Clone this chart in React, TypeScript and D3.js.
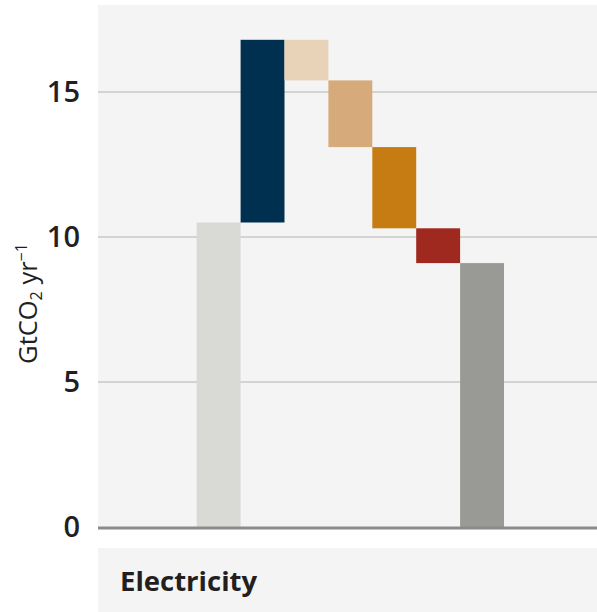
import React from "react";
import * as d3 from "d3";

const categories = ["Start", "Activity", "Factor 1", "Factor 2", "Factor 3", "Factor 4", "End"];
const changes = [10.5, 6.3, -1.4, -2.3, -2.8, -1.2];
const endValue = 9.1;
const colors = ["#d9dad6", "#00304f", "#e8d3b9", "#d6aa7b", "#c77b13", "#a0291f", "#999a95"];
const yTicks = [0, 5, 10, 15];
const panelLabel = "Electricity";

const W = 597;
const H = 612;
const plotLeft = 98;
const plotRight = 597;
const plotTop = 5;
const baseY = 527;

export default function App() {
  const y = d3.scaleLinear().domain([0, 18]).range([baseY, plotTop]);
  const x = d3.scaleBand<string>().domain(categories).range([196.7, 504]).padding(0);

  const bars: { cat: string; lo: number; hi: number; color: string }[] = [];
  let cum = 0;
  changes.forEach((c, i) => {
    const next = cum + c;
    bars.push({ cat: categories[i], lo: Math.min(cum, next), hi: Math.max(cum, next), color: colors[i] });
    cum = next;
  });
  bars.push({ cat: categories[6], lo: 0, hi: endValue, color: colors[6] });

  const font = "'Open Sans', 'Noto Sans', sans-serif";

  return (
    <svg width={W} height={H} style={{ position: "absolute", left: 0, top: 0 }} fontFamily={font}>
      <rect x={0} y={0} width={W} height={H} fill="#ffffff" />
      <rect x={plotLeft} y={plotTop} width={plotRight - plotLeft} height={baseY - plotTop} fill="#f4f4f4" />
      {yTicks.filter((t) => t > 0).map((t) => (
        <line key={t} x1={plotLeft} x2={plotRight} y1={y(t)} y2={y(t)} stroke="#c9c9c7" strokeWidth={1.6} />
      ))}
      {bars.map((b) => (
        <rect
          key={b.cat}
          x={x(b.cat)}
          y={y(b.hi)}
          width={x.bandwidth()}
          height={y(b.lo) - y(b.hi)}
          fill={b.color}
        />
      ))}
      <line x1={plotLeft} x2={plotRight} y1={baseY + 1} y2={baseY + 1} stroke="#8b8c87" strokeWidth={3} />
      {yTicks.map((t) => (
        <text key={t} x={80} y={y(t) + 10} textAnchor="end" fontSize={29} fontWeight={600} fill="#231f20">
          {t}
        </text>
      ))}
      <text transform={`translate(37,${303.5}) rotate(-90)`} textAnchor="middle" fontSize={25.5} fontWeight={500} fill="#231f20">
        GtCO
        <tspan fontSize={16} dy={5}>2</tspan>
        <tspan dy={-5}> yr</tspan>
        <tspan fontSize={16} dy={-10}>−1</tspan>
      </text>
      <rect x={plotLeft} y={548} width={plotRight - plotLeft} height={H - 548} fill="#f4f4f4" />
      <text x={120} y={591} fontSize={27.5} fontWeight="bold" fill="#231f20">
        {panelLabel}
      </text>
    </svg>
  );
}
